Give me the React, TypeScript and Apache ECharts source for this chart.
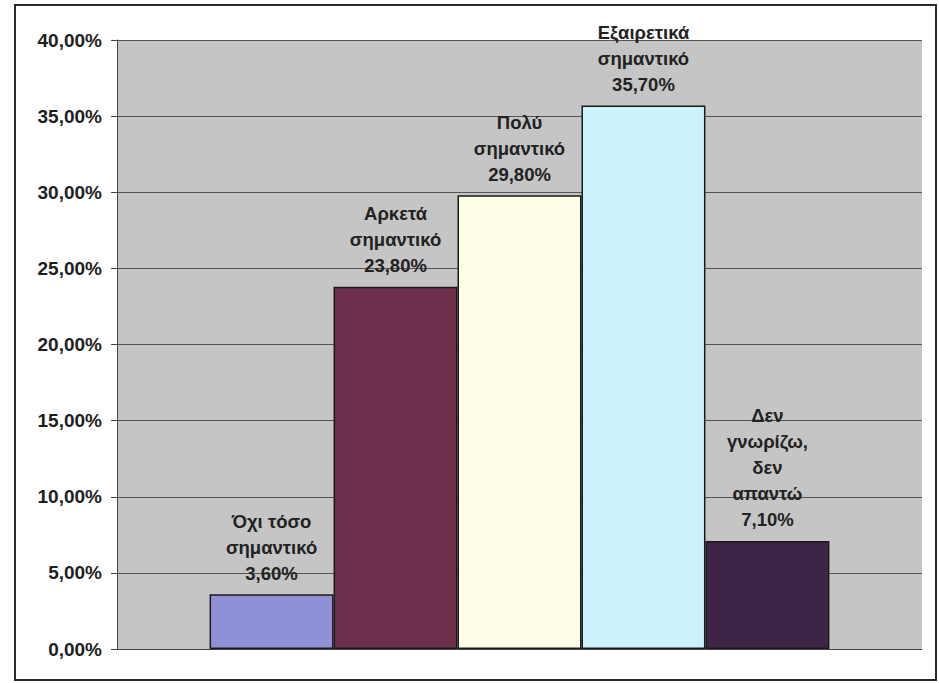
import React, { useEffect, useRef } from "react";
import * as echarts from "echarts";

const seriesNames = [
  "Όχι τόσο\nσημαντικό",
  "Αρκετά\nσημαντικό",
  "Πολύ\nσημαντικό",
  "Εξαιρετικά\nσημαντικό",
  "Δεν\nγνωρίζω,\nδεν\nαπαντώ",
];
const seriesValues = [3.6, 23.8, 29.8, 35.7, 7.1];
const seriesColors = ["#9090d6", "#6d2f4c", "#fffee9", "#ccf2fb", "#3e2548"];
const categories = [""];

const fmt = (v: number) => v.toFixed(2).replace(".", ",") + "%";

export default function App() {
  const ref = useRef<HTMLDivElement>(null);
  useEffect(() => {
    if (!ref.current) return;
    const chart = echarts.init(ref.current, undefined, { renderer: "svg" });
    chart.setOption({
      animation: false,
      backgroundColor: "#ffffff",
      textStyle: { fontFamily: "Liberation Sans, Arial, sans-serif" },
      graphic: [
        {
          type: "rect",
          shape: { x: 15, y: 5, width: 921, height: 675 },
          style: { fill: "none", stroke: "#2a2a2a", lineWidth: 2 },
          z: 100,
        },
      ],
      grid: {
        left: 117,
        top: 40,
        right: 17,
        bottom: 34,
        show: true,
        backgroundColor: "#c5c5c5",
        borderWidth: 0,
      },
      xAxis: {
        type: "category",
        data: categories,
        axisLabel: { show: false },
        axisTick: { show: false },
        axisLine: { show: true, lineStyle: { color: "#444", width: 1 } },
      },
      yAxis: {
        type: "value",
        min: 0,
        max: 40,
        interval: 5,
        axisLine: { show: true, lineStyle: { color: "#444", width: 1 } },
        axisTick: { show: true, length: 6, lineStyle: { color: "#444" } },
        splitLine: { show: true, lineStyle: { color: "#555", width: 1 } },
        axisLabel: {
          formatter: (v: number) => fmt(v),
          color: "#1e1e1e",
          fontWeight: "bold",
          fontSize: 19,
          margin: 15,
        },
      },
      series: seriesValues.map((v, i) => ({
        name: seriesNames[i],
        type: "bar",
        data: [v],
        barGap: "0%",
        barCategoryGap: "23%",
        itemStyle: {
          color: seriesColors[i],
          borderColor: "#1a1a1a",
          borderWidth: 1.5,
        },
        label: {
          show: true,
          position: "top",
          distance: 8,
          formatter: () => seriesNames[i] + "\n" + fmt(v),
          color: "#222",
          fontWeight: "bold",
          fontSize: 18.5,
          lineHeight: 26,
          align: "center",
        },
      })),
    });
    return () => chart.dispose();
  }, []);
  return (
    <div
      ref={ref}
      style={{ position: "fixed", left: 0, top: 0, width: 939, height: 683 }}
    />
  );
}
